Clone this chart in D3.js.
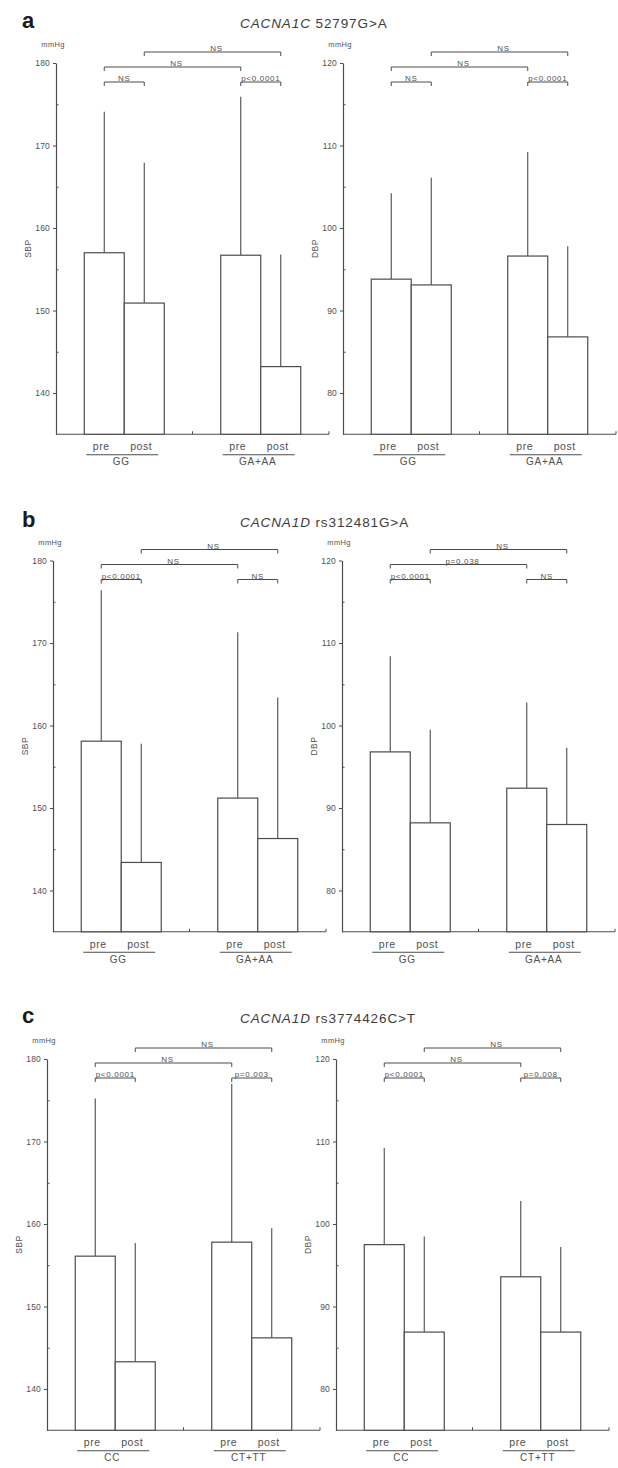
<!DOCTYPE html>
<html><head><meta charset="utf-8">
<script src="https://cdn.jsdelivr.net/npm/d3@7"></script>
<style>
body{margin:0;background:#fff;}
svg text{font-family:"Liberation Sans",Arial,Helvetica,sans-serif;fill:#505050;}
</style></head><body>
<svg id="chart" width="618" height="1468"></svg>
<script>
// ---------- data ----------
const panelLetters = ['a','b','c'];
const geneNames = ['CACNA1C','CACNA1D','CACNA1D'];
const variants = ['52797G>A','rs312481G>A','rs3774426C>T'];
const genotypesA = ['GG','GA+AA'];
const genotypesB = ['GG','GA+AA'];
const genotypesC = ['CC','CT+TT'];
const timepoints = ['pre','post'];
const sbpTicks = [140,150,160,170,180];
const sbpMinorTicks = [145,155,165,175];
const dbpTicks = [80,90,100,110,120];
const dbpMinorTicks = [85,95,105,115];
const sbpDomain = [135,180];
const dbpDomain = [75,120];

// bar order: [group1 pre, group1 post, group2 pre, group2 post]
const sbpMeanA  = [157.0,150.9,156.7,143.2];
const sbpUpperA = [174.1,167.9,175.9,156.8];
const dbpMeanA  = [93.8,93.1,96.6,86.8];
const dbpUpperA = [104.2,106.1,109.2,97.8];

const sbpMeanB  = [158.1,143.4,151.2,146.3];
const sbpUpperB = [176.4,157.8,171.3,163.4];
const dbpMeanB  = [96.8,88.2,92.4,88.0];
const dbpUpperB = [108.4,99.5,102.8,97.3];

const sbpMeanC  = [156.1,143.3,157.8,146.2];
const sbpUpperC = [175.2,157.7,177.0,159.5];
const dbpMeanC  = [97.5,86.9,93.6,86.9];
const dbpUpperC = [109.2,98.5,102.8,97.2];

// significance: [g1 pre vs post, g1 pre vs g2 pre, g1 post vs g2 post, g2 pre vs post]
const sbpSigA = ['NS','NS','NS','p<0.0001'];
const dbpSigA = ['NS','NS','NS','p<0.0001'];
const sbpSigB = ['p<0.0001','NS','NS','NS'];
const dbpSigB = ['p<0.0001','p=0.038','NS','NS'];
const sbpSigC = ['p<0.0001','NS','NS','p=0.003'];
const dbpSigC = ['p<0.0001','NS','NS','p=0.008'];

// ---------- layout ----------
const rowOffsets = [0, 497.5, 996];
const titleY = [28, 527, 1023];
const leftAxisX = [56, 53, 47];
const rightAxisX = [343, 342, 336];
const lineCol = '#4c4c4c';

const svg = d3.select('#chart');

function drawChart(x0, off, domain, ticks, minorTicks, means, uppers, sig, genotypes, yLabel) {
  const g = svg.append('g');
  const yBottom = off + 434.25, yTop = off + 63;
  const y = d3.scaleLinear().domain(domain).range([yBottom, yTop]);
  const xGroup = d3.scalePoint().domain(genotypes).range([x0, x0 + 273]).padding(0.5);
  const xTime = d3.scaleBand().domain(timepoints).range([-40, 40]);

  // y axis
  const ax = g.append('g').attr('transform', `translate(${x0},0)`)
    .call(d3.axisLeft(y).tickValues(ticks).tickSize(3).tickSizeOuter(0).tickPadding(3));
  ax.select('.domain').attr('stroke', lineCol).attr('stroke-width', 1.2);
  ax.selectAll('.tick line').attr('stroke', lineCol);
  ax.selectAll('.tick text').attr('font-size', 8.5).attr('fill', '#555')
    .style('font-family', '"Liberation Sans",Arial,sans-serif').attr('letter-spacing', 0.2);
  const axm = g.append('g').attr('transform', `translate(${x0},0)`)
    .call(d3.axisLeft(y).tickValues(minorTicks).tickSize(-2.5).tickFormat(''));
  axm.select('.domain').remove();
  axm.selectAll('.tick line').attr('stroke', lineCol);

  // mmHg
  g.append('text').attr('x', x0 - 3).attr('y', off + 47).attr('text-anchor', 'middle')
    .attr('font-size', 7.5).attr('letter-spacing', 0.3).text('mmHg');
  // y label
  g.append('text').attr('transform', `translate(${x0 - 25},${(yBottom + yTop) / 2}) rotate(-90)`)
    .attr('text-anchor', 'middle').attr('font-size', 8.5).attr('letter-spacing', 0.4).text(yLabel);

  // x axis line + ticks
  const xr = xGroup.range();
  g.append('line').attr('x1', xr[0]).attr('x2', xr[1]).attr('y1', yBottom).attr('y2', yBottom)
    .attr('stroke', lineCol).attr('stroke-width', 1.2);
  const midX = (xGroup(genotypes[0]) + xGroup(genotypes[1])) / 2;
  [midX, xr[1]].forEach(t => {
    g.append('line').attr('x1', t).attr('x2', t).attr('y1', yBottom).attr('y2', yBottom - 3)
      .attr('stroke', lineCol);
  });

  const bars = means.map((m, i) => ({
    geno: genotypes[Math.floor(i / 2)], time: timepoints[i % 2], mean: m, upper: uppers[i]
  }));
  const cx = d => xGroup(d.geno) + xTime(d.time) + xTime.bandwidth() / 2;

  // error lines
  g.selectAll('line.err').data(bars).join('line').attr('class', 'err')
    .attr('x1', cx).attr('x2', cx)
    .attr('y1', d => y(d.mean)).attr('y2', d => y(d.upper))
    .attr('stroke', lineCol).attr('stroke-width', 1.1);
  // bars
  g.selectAll('rect.bar').data(bars).join('rect').attr('class', 'bar')
    .attr('x', d => xGroup(d.geno) + xTime(d.time))
    .attr('width', xTime.bandwidth())
    .attr('y', d => y(d.mean))
    .attr('height', d => y(domain[0]) - y(d.mean))
    .attr('fill', '#fff').attr('stroke', lineCol).attr('stroke-width', 1.2);

  // significance brackets
  const pairs = [[0, 1, 82], [0, 2, 67], [1, 3, 52], [2, 3, 82]];
  pairs.forEach((p, k) => {
    const xa = cx(bars[p[0]]), xb = cx(bars[p[1]]), yy = off + p[2];
    g.append('path').attr('d', `M${xa},${yy + 4}V${yy}H${xb}V${yy + 4}`)
      .attr('fill', 'none').attr('stroke', lineCol).attr('stroke-width', 1);
    g.append('text').attr('x', (xa + xb) / 2 + (k === 1 || k === 2 ? 4 : 0)).attr('y', yy - 1)
      .attr('text-anchor', 'middle').attr('font-size', 8).attr('letter-spacing', 0.7)
      .text(sig[k]);
  });

  // category labels
  bars.forEach(d => {
    g.append('text').attr('x', cx(d) - 3).attr('y', yBottom + 16).attr('text-anchor', 'middle')
      .attr('font-size', 10.5).attr('letter-spacing', 0.6).text(d.time);
  });
  genotypes.forEach(gt => {
    const c = xGroup(gt);
    g.append('line').attr('x1', c - 38).attr('x2', c + 34)
      .attr('y1', yBottom + 20.5).attr('y2', yBottom + 20.5)
      .attr('stroke', lineCol).attr('stroke-width', 1);
    g.append('text').attr('x', c - 3).attr('y', yBottom + 31).attr('text-anchor', 'middle')
      .attr('font-size', 10).attr('letter-spacing', 0.8).text(gt);
  });
}

const rows = [
  {geno: genotypesA, sm: sbpMeanA, su: sbpUpperA, dm: dbpMeanA, du: dbpUpperA, ss: sbpSigA, ds: dbpSigA},
  {geno: genotypesB, sm: sbpMeanB, su: sbpUpperB, dm: dbpMeanB, du: dbpUpperB, ss: sbpSigB, ds: dbpSigB},
  {geno: genotypesC, sm: sbpMeanC, su: sbpUpperC, dm: dbpMeanC, du: dbpUpperC, ss: sbpSigC, ds: dbpSigC}
];

rows.forEach((r, i) => {
  const off = rowOffsets[i];
  // panel letter
  svg.append('text').attr('x', 22).attr('y', titleY[i]).attr('font-size', 22)
    .attr('font-weight', 'bold').style('fill', '#1a1a1a').text(panelLetters[i]);
  // title
  const t = svg.append('text').attr('x', 240).attr('y', titleY[i]).attr('font-size', 13.5)
    .attr('letter-spacing', 0.9).style('fill', '#3c3c3c');
  t.append('tspan').attr('font-style', 'italic').text(geneNames[i]);
  t.append('tspan').text(' ' + variants[i]);

  drawChart(leftAxisX[i], off, sbpDomain, sbpTicks, sbpMinorTicks, r.sm, r.su, r.ss, r.geno, 'SBP');
  drawChart(rightAxisX[i], off, dbpDomain, dbpTicks, dbpMinorTicks, r.dm, r.du, r.ds, r.geno, 'DBP');
});
</script>
</body></html>
